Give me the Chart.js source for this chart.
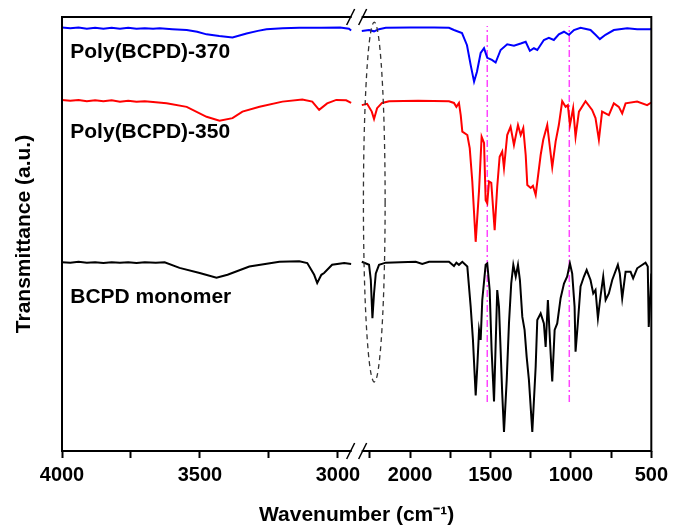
<!DOCTYPE html>
<html>
<head>
<meta charset="utf-8">
<script src="https://cdn.jsdelivr.net/npm/chart.js@4.4.1/dist/chart.umd.min.js"></script>
<style>
  html, body { margin: 0; padding: 0; background: #fff; }
  #wrap { width: 673px; height: 528px; }
</style>
</head>
<body>
<div id="wrap"><canvas id="ftir"></canvas></div>
<script>
// FTIR spectra, wavenumber (cm-1) vs transmittance (a.u., curves offset)
var names = ['Poly(BCPD)-370', 'Poly(BCPD)-350', 'BCPD monomer'];
var colors = ['#0000ff', '#ff0000', '#000000'];

var wnBlue = [4000, 3970, 3940, 3910, 3880, 3850, 3820, 3790, 3760, 3730, 3700, 3670, 3646, 3600, 3548, 3510, 3476, 3430, 3382, 3331, 3290, 3259, 3200, 3140, 3060, 2992, 2960, 2952,
  2300, 2255, 2224, 2193, 2151, 2000, 1850, 1758, 1727, 1677, 1646, 1623, 1602, 1584, 1561, 1540, 1520, 1491, 1468, 1437, 1396, 1354, 1312, 1281, 1255, 1230, 1209, 1168, 1137, 1106, 1075, 1043, 1012, 981, 940, 878, 847, 820, 785, 733, 650, 588, 505, 500];
var tBlue = [97.6, 97.4, 97.6, 97.3, 97.5, 97.3, 97.5, 97.3, 97.5, 97.3, 97.4, 97.3, 97.4, 97.2, 97.0, 96.6, 96.0, 95.6, 95.3, 96.2, 96.8, 97.2, 97.4, 97.5, 97.5, 97.6, 97.3, 96.9,
  96.8, 97.0, 96.7, 97.2, 97.5, 97.6, 97.6, 97.5, 97.0, 96.3, 93.5, 88.9, 85.1, 87.4, 91.7, 92.8, 90.6, 90.1, 89.5, 92.4, 93.7, 93.4, 93.9, 94.3, 92.2, 92.8, 92.4, 94.7, 95.2, 94.7, 96.0, 96.6, 95.9, 97.0, 97.5, 97.0, 95.9, 94.9, 95.9, 97.0, 97.4, 97.2, 97.2, 97.3];

var wnRed = [4000, 3970, 3940, 3910, 3880, 3850, 3820, 3790, 3760, 3730, 3700, 3670, 3621, 3548, 3476, 3429, 3382, 3346, 3284, 3201, 3129, 3093, 3068, 3039, 3006, 2970, 2952,
  2300, 2267, 2238, 2224, 2205, 2174, 2130, 1950, 1758, 1727, 1712, 1696, 1685, 1675, 1644, 1629, 1613, 1592, 1571, 1555, 1540, 1530, 1520, 1509, 1495, 1474, 1458, 1443, 1427, 1416, 1396, 1375, 1354, 1329, 1312, 1296, 1281, 1271, 1250, 1236, 1219, 1188, 1172, 1147, 1130, 1116, 1095, 1075, 1054, 1033, 1019, 1006, 986, 971, 950, 909, 868, 847, 826, 806, 764, 733, 702, 681, 660, 588, 526, 500];
var tRed = [80.9, 80.7, 80.9, 80.6, 80.8, 80.6, 80.8, 80.5, 80.7, 80.5, 80.6, 80.4, 80.1, 79.3, 77.0, 76.1, 76.7, 78.2, 79.3, 80.5, 81.0, 80.5, 78.6, 80.1, 80.9, 80.8, 80.2,
  79.7, 80.0, 78.2, 76.5, 79.0, 80.2, 80.6, 80.7, 80.6, 80.2, 79.3, 80.2, 77.4, 73.6, 72.8, 69.8, 62.1, 48.2, 60.1, 72.4, 71.0, 57.8, 57.1, 62.1, 61.8, 50.9, 60.9, 67.8, 69.0, 65.2, 72.8, 74.7, 70.5, 75.1, 72.8, 74.4, 68.2, 61.3, 60.6, 61.1, 59.0, 68.2, 71.7, 75.1, 69.8, 65.4, 71.3, 75.1, 80.6, 79.3, 79.7, 75.1, 79.0, 72.4, 78.2, 80.6, 78.6, 76.7, 71.7, 78.2, 77.4, 80.1, 79.3, 77.8, 80.1, 80.5, 79.7, 80.3];

var wnBlack = [4000, 3970, 3940, 3910, 3880, 3850, 3820, 3790, 3760, 3730, 3700, 3660, 3628, 3574, 3501, 3440, 3400, 3321, 3212, 3140, 3111, 3086, 3075, 3060, 3050, 3021, 2977, 2952,
  2300, 2255, 2244, 2234, 2224, 2213, 2193, 2151, 2060, 1965, 1924, 1882, 1758, 1727, 1712, 1696, 1675, 1644, 1623, 1609, 1592, 1582, 1571, 1561, 1551, 1530, 1520, 1505, 1493, 1478, 1458, 1447, 1437, 1427, 1416, 1399, 1385, 1371, 1358, 1343, 1329, 1317, 1302, 1288, 1275, 1261, 1240, 1219, 1209, 1188, 1168, 1157, 1143, 1126, 1116, 1101, 1085, 1064, 1043, 1023, 1006, 992, 977, 971, 957, 940, 919, 902, 878, 861, 847, 832, 816, 799, 784, 764, 743, 708, 696, 681, 660, 629, 613, 588, 536, 522, 516, 505, 500];
var tBlack = [43.5, 43.4, 43.6, 43.4, 43.5, 43.3, 43.5, 43.4, 43.5, 43.3, 43.5, 43.4, 43.5, 42.2, 41.0, 39.9, 40.6, 42.5, 43.6, 43.7, 43.3, 40.6, 38.7, 40.6, 41.0, 42.9, 43.3, 43.1,
  43.6, 42.9, 39.4, 30.6, 36.3, 40.9, 42.9, 43.4, 43.5, 43.6, 43.1, 43.6, 43.6, 42.6, 43.4, 42.9, 43.6, 42.5, 33.2, 25.6, 12.8, 19.4, 27.9, 25.6, 34.8, 42.9, 43.2, 37.1, 23.3, 11.4, 37.1, 33.2, 23.3, 13.3, 4.4, 16.4, 29.4, 38.6, 42.9, 40.2, 42.9, 39.4, 30.9, 27.9, 21.7, 16.4, 4.4, 19.4, 30.2, 31.7, 29.4, 24.0, 34.8, 22.5, 16.0, 27.9, 29.4, 35.2, 38.6, 40.2, 43.2, 40.9, 33.2, 22.9, 29.4, 37.9, 40.2, 41.7, 39.4, 36.3, 37.1, 30.6, 35.6, 40.2, 34.8, 36.3, 39.4, 42.9, 40.9, 35.2, 41.3, 41.3, 39.8, 42.1, 43.4, 42.5, 28.6, 36.3, 40.9];

// axis break: left panel 4000 -> 2932, right panel 2332 -> 500
var leftRange = [2932, 4000];
var rightRange = [500, 2332];
var leftTicks = [4000, 3750, 3500, 3250, 3000];
var rightTicks = [2250, 2000, 1750, 1500, 1250, 1000, 750, 500];
var tickLabels = [4000, 3500, 3000, 2000, 1500, 1000, 500];

// dash-dot marker lines and the dashed ellipse round the C≡N band
var markerWn = [1520, 1010];
var markerSpan = [11.3, 97.9];
var ellipseWn = [2155, 2290];
var ellipseT = [15.9, 98.8];
var labelT = [90.5, 72.1, 34.2];

var FONT = "'Liberation Sans', Arial, sans-serif";

function segment(wn, t, left) {
  var out = [];
  for (var i = 0; i < wn.length; i++) {
    if ((wn[i] > 2600) === left) out.push({ x: wn[i], y: t[i] });
  }
  return out;
}

var spectra = [[wnBlue, tBlue], [wnRed, tRed], [wnBlack, tBlack]];
var datasets = [];
spectra.forEach(function(s, i) {
  [true, false].forEach(function(left) {
    datasets.push({
      label: names[i],
      data: segment(s[0], s[1], left),
      xAxisID: left ? 'xL' : 'xR',
      borderColor: colors[i],
      borderWidth: 2,
      pointRadius: 0,
      tension: 0
    });
  });
});
markerWn.forEach(function(w) {
  datasets.push({
    label: 'marker',
    data: [{ x: w, y: markerSpan[0] }, { x: w, y: markerSpan[1] }],
    xAxisID: 'xR',
    borderColor: '#ff44ff',
    borderWidth: 1.5,
    borderDash: [7, 3, 2, 3],
    pointRadius: 0
  });
});

var extras = {
  id: 'extras',
  afterDatasetsDraw: function(chart) {
    var ctx = chart.ctx, a = chart.chartArea;
    var xL = chart.scales.xL, xR = chart.scales.xR, y = chart.scales.y;
    ctx.save();

    // dashed ellipse
    var ex1 = xR.getPixelForValue(ellipseWn[1]), ex2 = xR.getPixelForValue(ellipseWn[0]);
    var ey1 = y.getPixelForValue(ellipseT[1]), ey2 = y.getPixelForValue(ellipseT[0]);
    ctx.beginPath();
    ctx.setLineDash([5, 4]);
    ctx.strokeStyle = '#333';
    ctx.lineWidth = 1.3;
    ctx.ellipse((ex1 + ex2) / 2, (ey1 + ey2) / 2, (ex2 - ex1) / 2, (ey2 - ey1) / 2, 0, 0, Math.PI * 2);
    ctx.stroke();
    ctx.setLineDash([]);

    // frame
    ctx.strokeStyle = '#000';
    ctx.lineWidth = 2;
    ctx.strokeRect(a.left, a.top, a.right - a.left, a.bottom - a.top);

    // break marks
    var bx = xL.right;
    [a.top, a.bottom].forEach(function(by) {
      ctx.fillStyle = '#fff';
      ctx.fillRect(bx - 5, by - 2, 10, 4);
      ctx.beginPath();
      ctx.lineWidth = 1.5;
      ctx.moveTo(bx - 10, by + 8); ctx.lineTo(bx - 2, by - 8);
      ctx.moveTo(bx + 2, by + 8); ctx.lineTo(bx + 10, by - 8);
      ctx.stroke();
    });

    // series names
    ctx.fillStyle = '#000';
    ctx.font = 'bold 21px ' + FONT;
    ctx.textBaseline = 'alphabetic';
    ctx.textAlign = 'left';
    names.forEach(function(n, i) {
      ctx.fillText(n, xL.getPixelForValue(3970), y.getPixelForValue(labelT[i]));
    });
    ctx.restore();
  }
};

function xAxis(range, ticks) {
  return {
    type: 'linear',
    position: 'bottom',
    stack: 'wn',
    stackWeight: 1,
    reverse: true,
    min: range[0],
    max: range[1],
    afterBuildTicks: function(scale) {
      scale.ticks = ticks.map(function(v) { return { value: v }; });
    },
    afterFit: function(scale) { scale.height = 36; },
    border: { display: false },
    grid: { drawOnChartArea: false, drawTicks: true, tickLength: 7, tickColor: '#000', tickWidth: 2 },
    ticks: {
      autoSkip: false,
      maxRotation: 0,
      padding: 5,
      color: '#000',
      font: { size: 20, weight: 'bold', family: FONT },
      callback: function(v) { return tickLabels.indexOf(v) >= 0 ? String(v) : ''; }
    }
  };
}

new Chart(document.getElementById('ftir'), {
  type: 'line',
  data: { datasets: datasets },
  plugins: [extras],
  options: {
    responsive: true,
    maintainAspectRatio: false,
    animation: false,
    layout: { padding: { top: 17, right: 20, left: 0, bottom: 0 } },
    plugins: { legend: { display: false }, tooltip: { enabled: false } },
    scales: {
      xL: xAxis(leftRange, leftTicks),
      xR: xAxis(rightRange, rightTicks),
      xTitle: {
        type: 'linear',
        position: 'bottom',
        weight: 1,
        afterFit: function(scale) { scale.height = 41; },
        border: { display: false },
        grid: { display: false },
        ticks: { display: false },
        title: {
          display: true,
          text: 'Wavenumber (cm\u207B\u00B9)',
          color: '#000',
          padding: { top: 0, bottom: 0 },
          font: { size: 21, weight: 'bold', family: FONT }
        }
      },
      y: {
        type: 'linear',
        min: 0,
        max: 100,
        afterFit: function(scale) { scale.width = 62; },
        border: { display: false },
        grid: { display: false },
        ticks: { display: false },
        title: {
          display: true,
          text: 'Transmittance (a.u.)',
          color: '#000',
          padding: { top: 12, bottom: 0 },
          font: { size: 21, weight: 'bold', family: FONT }
        }
      }
    }
  }
});
</script>
</body>
</html>
